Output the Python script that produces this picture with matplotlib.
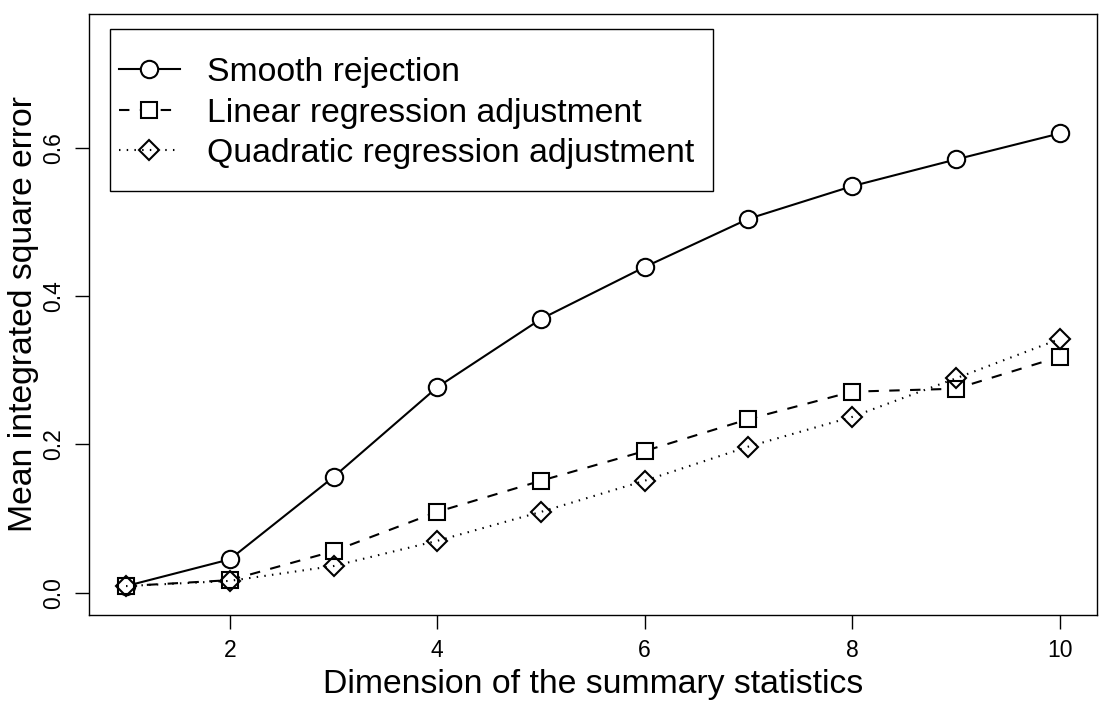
import matplotlib
matplotlib.use("Agg")
import matplotlib.pyplot as plt
from matplotlib.patches import Rectangle

plt.rcParams['font.family'] = ['Liberation Sans', 'DejaVu Sans']

# values
dims = [1, 2, 3, 4, 5, 6, 7, 8, 9, 10]
smooth_rejection = [0.009, 0.045, 0.156, 0.277, 0.369, 0.439, 0.504, 0.548, 0.584, 0.619]
linear_adj = [0.009, 0.017, 0.056, 0.109, 0.151, 0.191, 0.234, 0.271, 0.275, 0.318]
quadratic_adj = [0.009, 0.016, 0.036, 0.070, 0.109, 0.151, 0.197, 0.237, 0.289, 0.342]
labels = ["Smooth rejection", "Linear regression adjustment", "Quadratic regression adjustment"]

fig = plt.figure(figsize=(10.99, 7.04), dpi=100)
ax = fig.add_axes([0.0807, 0.1264, 0.9175, 0.8537])

lw = 1.5
ax.plot(dims, smooth_rejection, color='black', lw=lw, ls='-', marker='o', ms=12.5,
        mfc='white', mec='black', mew=lw, label=labels[0])
ax.plot(dims, linear_adj, color='black', lw=lw, ls=(0, (5, 5)), marker='s', ms=11,
        mfc='white', mec='black', mew=lw, label=labels[1])
ax.plot(dims, quadratic_adj, color='black', lw=lw, ls=(0, (0.7, 3)), marker='D', ms=10,
        mfc='none', mec='black', mew=lw, label=labels[2])

# R style axes: 4% padding, y range 0..0.75
ax.set_xlim(1 - 0.36, 10 + 0.36)
ax.set_ylim(-0.03, 0.78)
ax.set_xticks([2, 4, 6, 8, 10])
ax.set_yticks([0.0, 0.2, 0.4, 0.6])
ax.set_yticklabels(["0.0", "0.2", "0.4", "0.6"], rotation=90, va='center')
ax.tick_params(axis='both', labelsize=16.5, length=10, width=1, direction='out', pad=7)
for s in ax.spines.values():
    s.set_linewidth(1)

ax.set_xlabel("Dimension of the summary statistics", fontsize=24.3, labelpad=5)
ax.set_ylabel("Mean integrated square error", fontsize=24.3, labelpad=2)

# legend box drawn separately so the padding matches
ax.add_patch(Rectangle((0.0216, 0.705), 0.5975, 0.27, transform=ax.transAxes,
                       fill=False, edgecolor='black', lw=1, zorder=5))
ax.legend(loc='upper left', bbox_to_anchor=(0.03, 0.928), borderaxespad=0,
          frameon=False, fontsize=24.3, handlelength=1.8, handletextpad=0.8,
          labelspacing=0.28, borderpad=0)

fig.savefig("out.png", dpi=100)
